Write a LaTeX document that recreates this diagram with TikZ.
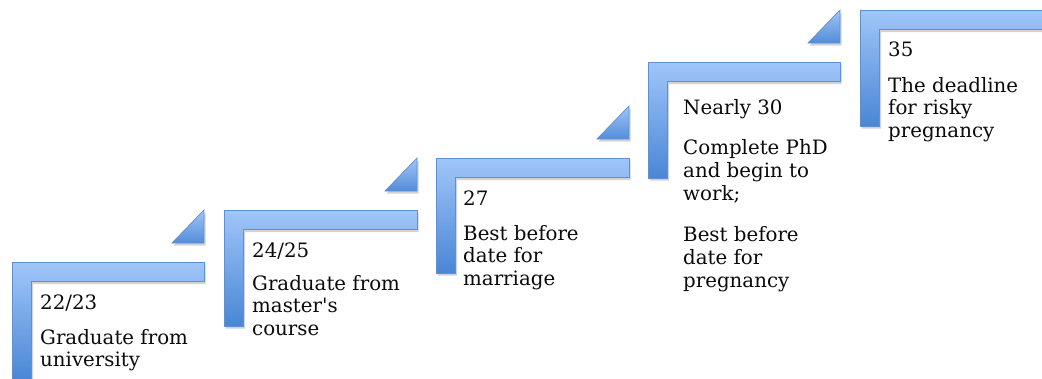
\documentclass[tikz,border=0pt]{standalone}
\usepackage{fontspec}
\setmainfont{DejaVu Serif}
\usetikzlibrary{shadows}
\definecolor{blueLight}{HTML}{A0C6F9}
\definecolor{blueDark}{HTML}{4A86D5}
\definecolor{blueEdge}{HTML}{5E90D6}
\definecolor{txtcol}{HTML}{0A0A0A}
\tikzset{
  bracketshape/.style={draw=blueEdge, line width=0.7pt, top color=blueLight, bottom color=blueDark,
    drop shadow={shadow xshift=1.5pt, shadow yshift=-2.5pt, opacity=0.35}},
  arrowtri/.style={draw=blueEdge, line width=0.7pt, top color=blueLight, bottom color=blueDark!90!blueLight,
    drop shadow={shadow xshift=1.5pt, shadow yshift=-2.5pt, opacity=0.35}},
  txt/.style={anchor=base west, inner sep=0pt, font=\fontsize{19.8}{23}\selectfont, text=txtcol}
}
\newcommand{\Lbracket}[4]{%
  \draw[bracketshape] (#1,#2) -- (#3,#2) -- (#3,#2+19.5) -- (#1+19.5,#2+19.5)
    -- (#1+19.5,#4) -- (#1,#4) -- cycle;}
\newcommand{\Stepmark}[2]{%
  \draw[arrowtri] (#1-32,#2) -- (#1,#2-33) -- (#1,#2) -- cycle;}
\begin{document}
\begin{tikzpicture}[x=1pt,y=-1pt]
\useasboundingbox (0,0) rectangle (1042,378);
\clip (0,0) rectangle (1042,378);
% step markers
\Stepmark{204}{243}
\Stepmark{417}{191}
\Stepmark{629}{139}
\Stepmark{840}{43}
% brackets
\Lbracket{12}{262}{204}{380}
\Lbracket{224}{210}{417}{326}
\Lbracket{436}{158}{629}{273}
\Lbracket{648}{62}{840}{178}
\Lbracket{860}{10}{1060}{126}
% texts, step 1
\node[txt] (s1age) at (40,309) {22/23};
\node[txt] (s1a) at (40,344) {Graduate from};
\node[txt] (s1b) at (40,366.5) {university};
% step 2
\node[txt] (s2age) at (252,257) {24/25};
\node[txt] (s2a) at (252,290) {Graduate from};
\node[txt] (s2b) at (252,312.5) {master\textquotesingle s};
\node[txt] (s2c) at (252,335) {course};
% step 3
\node[txt] (s3age) at (463,205) {27};
\node[txt] (s3a) at (463,240) {Best before};
\node[txt] (s3b) at (463,262.5) {date for};
\node[txt] (s3c) at (463,285) {marriage};
% step 4
\node[txt] (s4age) at (683,114) {Nearly 30};
\node[txt] (s4a) at (683,154) {Complete PhD};
\node[txt] (s4b) at (683,177) {and begin to};
\node[txt] (s4c) at (683,200) {work;};
\node[txt] (s4d) at (683,241) {Best before};
\node[txt] (s4e) at (683,264) {date for};
\node[txt] (s4f) at (683,287) {pregnancy};
% step 5
\node[txt] (s5age) at (888,56) {35};
\node[txt] (s5a) at (888,92) {The deadline};
\node[txt] (s5b) at (888,114.5) {for risky};
\node[txt] (s5c) at (888,137) {pregnancy};
\end{tikzpicture}
\end{document}
